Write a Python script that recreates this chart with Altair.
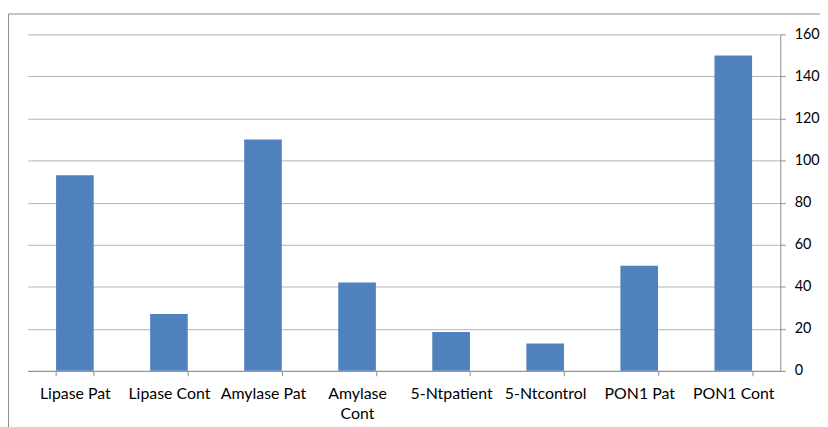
import altair as alt
import pandas as pd

categories = ["Lipase Pat", "Lipase Cont", "Amylase Pat", "Amylase Cont",
              "5-Ntpatient", "5-Ntcontrol", "PON1 Pat", "PON1 Cont"]
values = [93, 27, 110, 42, 18.5, 13, 50, 150]

df = pd.DataFrame({"cat": categories, "val": values})

W, H = 758, 339

frame = alt.Chart(pd.DataFrame({"a": [0]})).mark_rect(
    fill=None, stroke="#8c8c8c", strokeWidth=1
).encode(
    x=alt.value(-19.5), x2=alt.value(900), y=alt.value(-20.5), y2=alt.value(600)
)

bars = alt.Chart(df).mark_bar(color="#4F81BD").encode(
    x=alt.X("cat:N", sort=categories, title=None,
            scale=alt.Scale(paddingInner=0.6, paddingOuter=0.3),
            axis=alt.Axis(labelAngle=0, labelFont="Lato", labelFontSize=16,
                          labelColor="#000000", domainColor="#8c8c8c",
                          tickColor="#8c8c8c", tickBand="extent", tickSize=5,
                          labelPadding=10, labelLimit=200,
                          labelExpr="datum.label == 'Amylase Cont' ? ['Amylase', 'Cont'] : datum.label")),
    y=alt.Y("val:Q", title=None,
            scale=alt.Scale(domain=[0, 160]),
            axis=alt.Axis(orient="right", values=list(range(0, 161, 20)),
                          labelFont="Lato", labelFontSize=14.5, labelColor="#000000",
                          domainColor="#8c8c8c", tickColor="#8c8c8c", tickSize=5,
                          labelPadding=9, grid=True, gridColor="#b3b3b3"))
)

chart = alt.layer(frame, bars).properties(
    width=W, height=H,
    autosize=alt.AutoSizeParams(type="none"),
    padding={"left": 20, "top": 25, "right": 40, "bottom": 55}
).configure_view(stroke=None).configure_axis(labelLineHeight=20)

chart.save("out.html", embed_options={"renderer": "svg", "actions": False})
